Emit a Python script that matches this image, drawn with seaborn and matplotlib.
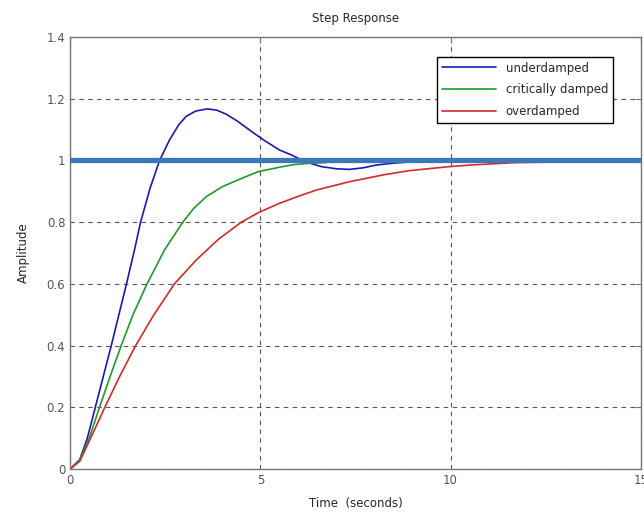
import pandas as pd
import matplotlib
matplotlib.use("Agg")
import matplotlib.pyplot as plt
import seaborn as sns

# values
t_under = [0, 0.25, 0.45, 0.66, 0.87, 1.08, 1.28, 1.48, 1.69, 1.85, 2.1, 2.35, 2.61, 2.85, 3.05, 3.3, 3.6,
           3.85, 4.1, 4.4, 4.71, 5.1, 5.5, 5.81, 6.2, 6.6, 7.0, 7.34, 7.7, 8.04, 8.4, 8.79]
y_under = [0, 0.03, 0.1, 0.2, 0.3, 0.4, 0.5, 0.6, 0.71, 0.8, 0.91, 1.0, 1.066, 1.115, 1.143, 1.16, 1.167,
           1.163, 1.15, 1.127, 1.099, 1.065, 1.034, 1.018, 0.995, 0.98, 0.973, 0.971, 0.976, 0.985, 0.99, 0.994]

t_crit = [0, 0.25, 0.5, 0.77, 1.05, 1.34, 1.65, 2.02, 2.48, 2.96, 3.25, 3.58, 4.0, 4.45, 4.95, 5.5, 5.85, 6.3, 6.73]
y_crit = [0, 0.03, 0.1, 0.2, 0.3, 0.4, 0.5, 0.6, 0.71, 0.8, 0.845, 0.883, 0.915, 0.939, 0.964, 0.978, 0.986,
          0.991, 0.993]

t_over = [0, 0.25, 0.5, 0.91, 1.3, 1.72, 2.2, 2.74, 3.31, 3.9, 4.5, 4.95, 5.5, 6.0, 6.47, 7.34, 8.22, 8.92,
          9.97, 10.5, 11.7, 12.8]
y_over = [0, 0.025, 0.09, 0.2, 0.3, 0.4, 0.5, 0.6, 0.677, 0.745, 0.8, 0.831, 0.861, 0.884, 0.904, 0.931, 0.953,
          0.967, 0.98, 0.985, 0.993, 0.995]

steady_state = 1.0
x_ticks = [0, 5, 10, 15]
y_ticks = [0, 0.2, 0.4, 0.6, 0.8, 1, 1.2, 1.4]
y_tick_labels = ["0", "0.2", "0.4", "0.6", "0.8", "1", "1.2", "1.4"]

sns.set_style("white")
plt.rcParams["font.family"] = ["DejaVu Sans"]

fig = plt.figure(figsize=(6.44, 5.14), dpi=100)
ax = fig.add_axes([0.109, 0.0875, 0.886, 0.8405])

sns.lineplot(x=t_under, y=y_under, sort=False, color="#1a1ab4", linewidth=1.2, label="underdamped", ax=ax)
sns.lineplot(x=t_crit, y=y_crit, sort=False, color="#1f9a2a", linewidth=1.2, label="critically damped", ax=ax)
sns.lineplot(x=t_over, y=y_over, sort=False, color="#d42a2a", linewidth=1.2, label="overdamped", ax=ax)
ax.axhline(steady_state, color="#3c78b8", linewidth=3.8, zorder=5)

ax.set_xlim(0, 15)
ax.set_ylim(0, 1.4)
ax.set_xticks(x_ticks)
ax.set_yticks(y_ticks)
ax.set_yticklabels(y_tick_labels)
ax.tick_params(direction="in", length=4, labelsize=8.5, labelcolor="#555555", color="#777777",
               top=True, right=True)
ax.grid(True, linestyle=(0, (4, 4)), color="#555555", linewidth=0.8)
for s in ax.spines.values():
    s.set_color("#777777")
    s.set_linewidth(1.0)

ax.set_title("Step Response", fontsize=8.5, pad=11)
ax.set_xlabel("Time  (seconds)", fontsize=8.5, labelpad=7)
ax.set_ylabel("Amplitude", fontsize=8.5, labelpad=12)

leg = ax.legend(loc="upper right", bbox_to_anchor=(0.951, 0.954), borderaxespad=0, fontsize=8.5,
                handlelength=4.6, labelspacing=0.75, fancybox=False, framealpha=1, edgecolor="black")
leg.get_frame().set_linewidth(1.0)

fig.savefig("out.png", dpi=100)
